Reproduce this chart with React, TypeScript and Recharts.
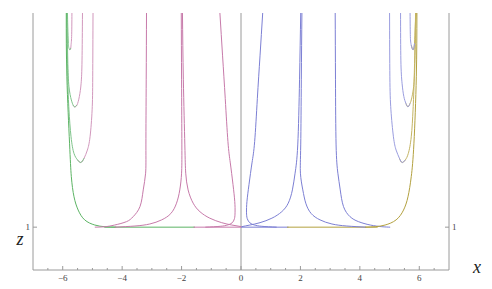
import React from "react";
import { LineChart, Line, XAxis, YAxis, ReferenceLine } from "recharts";

// colours
const GREEN = "#5cb464";
const PINK = "#c77aaa";
const BLUE = "#7c7fd4";
const YELLOW = "#b3a13f";
const GREEN_L = "#7ec48a";
const PINK_L = "#d298bd";
const BLUE_L = "#9a9ddf";
const YELLOW_L = "#c4b462";
const FRAME = "#9a9a9a";
const LABEL = "#444444";
const SERIF = "'Liberation Serif', 'Times New Roman', 'DejaVu Serif', serif";

const xTicks = [-6.5, -6, -5.5, -5, -4.5, -4, -3.5, -3, -2.5, -2, -1.5, -1, -0.5, 0, 0.5, 1, 1.5, 2, 2.5, 3, 3.5, 4, 4.5, 5, 5.5, 6, 6.5];
const xLabels = [-6, -4, -2, 0, 2, 4, 6];
const zTicks = [1];

// curves as [x, z] pairs
const greenMain = [[-5.88, 6], [-5.86, 4.51], [-5.77, 2.96], [-5.71, 2.18], [-5.62, 1.71], [-5.48, 1.4], [-5.26, 1.17], [-4.92, 1.05], [-4.58, 1.01], [-4.2, 1.0]];
const greenFloor = [[-4.6, 1], [-1.55, 1]];
// small loops on the left: green side going down, pink side going up
const loop1Down = [[-5.84, 6], [-5.83, 5.68], [-5.81, 5.29], [-5.79, 5.18], [-5.76, 5.14], [-5.73, 5.18]];
const loop1Up = [[-5.76, 5.14], [-5.73, 5.18], [-5.72, 5.25], [-5.7, 5.45], [-5.69, 6]];
const loop2Down = [[-5.855, 6], [-5.83, 4.9], [-5.79, 4.28], [-5.71, 3.97], [-5.65, 3.85], [-5.6, 3.81], [-5.52, 3.85]];
const loop2Up = [[-5.65, 3.85], [-5.6, 3.81], [-5.52, 3.85], [-5.44, 4.05], [-5.38, 4.36], [-5.35, 4.9], [-5.335, 6]];
const loop3Down = [[-5.865, 6], [-5.83, 4.51], [-5.79, 3.74], [-5.72, 3.11], [-5.62, 2.72], [-5.5, 2.57], [-5.39, 2.51], [-5.28, 2.61]];
const loop3Up = [[-5.5, 2.57], [-5.39, 2.51], [-5.28, 2.61], [-5.17, 2.8], [-5.08, 3.11], [-5.01, 3.74], [-4.99, 4.51], [-4.98, 6]];

const pinkFloor = [[-1.6, 1], [0, 1]];
const pinkWall = [[-3.18, 6], [-3.19, 4.44], [-3.2, 2.92], [-3.21, 2.26], [-3.29, 1.87], [-3.4, 1.48], [-3.63, 1.245], [-3.85, 1.13], [-4.25, 1.05], [-4.58, 1.01], [-4.92, 1.0]];
const pinkPeakL = [[-2.01, 6], [-2.0, 4.44], [-1.99, 2.92], [-2.0, 2.26], [-2.06, 1.87], [-2.17, 1.56], [-2.36, 1.32], [-2.67, 1.17], [-3.07, 1.074], [-3.57, 1.027], [-4.25, 1.0]];
const pinkPeakR = [[-1.97, 6], [-1.94, 4.44], [-1.89, 2.92], [-1.86, 2.26], [-1.78, 1.87], [-1.61, 1.56], [-1.38, 1.36], [-1.05, 1.21], [-0.65, 1.105], [-0.31, 1.05], [0.02, 1.011]];
const pinkHook = [[-0.71, 6], [-0.62, 5], [-0.53, 4], [-0.44, 3], [-0.36, 2.5], [-0.27, 2], [-0.21, 1.6], [-0.2, 1.35], [-0.22, 1.2], [-0.3, 1.1], [-0.45, 1.05], [-0.7, 1.02], [-1.2, 1.0]];

const blueFloor = [[0, 1], [1.6, 1]];
const blueHook = [[0.73, 6], [0.64, 5], [0.55, 4], [0.46, 3], [0.37, 2.5], [0.27, 2], [0.2, 1.6], [0.185, 1.35], [0.21, 1.2], [0.3, 1.1], [0.45, 1.05], [0.7, 1.02], [1.2, 1.0]];
const bluePeakL = [[2.01, 6], [1.97, 4.44], [1.91, 2.92], [1.82, 2.26], [1.73, 1.87], [1.59, 1.56], [1.37, 1.36], [1.04, 1.21], [0.64, 1.105], [0.3, 1.05], [0.02, 1.011]];
const bluePeakR = [[2.05, 6], [2.03, 4.44], [2.01, 2.92], [2.0, 2.26], [2.08, 1.87], [2.18, 1.56], [2.36, 1.32], [2.66, 1.17], [3.06, 1.074], [3.56, 1.027], [4.21, 1.0]];
const blueWall = [[3.17, 6], [3.18, 4.44], [3.2, 2.92], [3.26, 2.26], [3.34, 1.87], [3.45, 1.48], [3.67, 1.245], [3.95, 1.13], [4.35, 1.05], [4.74, 1.011], [5.02, 1.0]];

const yellowMain = [[5.92, 6], [5.9, 4.51], [5.82, 2.96], [5.73, 2.18], [5.62, 1.71], [5.47, 1.4], [5.22, 1.17], [4.85, 1.05], [4.52, 1.011], [4.18, 1.0]];
const yellowFloor = [[1.55, 1], [4.6, 1]];
// small loops on the right: blue side going down, yellow side going up
const loop4Down = [[5.69, 6], [5.7, 5.45], [5.73, 5.25], [5.79, 5.14], [5.84, 5.29]];
const loop4Up = [[5.73, 5.25], [5.79, 5.14], [5.84, 5.29], [5.865, 5.68], [5.89, 6]];
const loop5Down = [[5.37, 6], [5.38, 4.9], [5.42, 4.36], [5.48, 4.05], [5.55, 3.89], [5.62, 3.81], [5.69, 3.89]];
const loop5Up = [[5.55, 3.89], [5.62, 3.81], [5.69, 3.89], [5.73, 3.97], [5.81, 4.28], [5.855, 4.9], [5.89, 6]];
const loop6Down = [[5.0, 6], [5.01, 4.51], [5.045, 3.74], [5.13, 3.11], [5.22, 2.8], [5.33, 2.61], [5.42, 2.51], [5.53, 2.57]];
const loop6Up = [[5.33, 2.61], [5.42, 2.51], [5.53, 2.57], [5.63, 2.72], [5.73, 3.11], [5.79, 3.74], [5.83, 4.51], [5.875, 6]];

const toPts = (arr: number[][]) => arr.map(([x, z]) => ({ x, z }));

const series = [
  { id: "greenFloor", pts: greenFloor, color: GREEN, type: "linear" },
  { id: "pinkFloor", pts: pinkFloor, color: PINK, type: "linear" },
  { id: "blueFloor", pts: blueFloor, color: BLUE, type: "linear" },
  { id: "yellowFloor", pts: yellowFloor, color: YELLOW, type: "linear" },
  { id: "loop1Up", pts: loop1Up, color: PINK_L },
  { id: "loop2Up", pts: loop2Up, color: PINK_L },
  { id: "loop3Up", pts: loop3Up, color: PINK_L },
  { id: "loop1Down", pts: loop1Down, color: GREEN_L },
  { id: "loop2Down", pts: loop2Down, color: GREEN_L },
  { id: "loop3Down", pts: loop3Down, color: GREEN_L },
  { id: "greenMain", pts: greenMain, color: GREEN },
  { id: "pinkWall", pts: pinkWall, color: PINK },
  { id: "pinkPeakL", pts: pinkPeakL, color: PINK },
  { id: "pinkPeakR", pts: pinkPeakR, color: PINK },
  { id: "pinkHook", pts: pinkHook, color: PINK },
  { id: "blueHook", pts: blueHook, color: BLUE },
  { id: "bluePeakL", pts: bluePeakL, color: BLUE },
  { id: "bluePeakR", pts: bluePeakR, color: BLUE },
  { id: "blueWall", pts: blueWall, color: BLUE },
  { id: "loop4Up", pts: loop4Up, color: YELLOW_L },
  { id: "loop5Up", pts: loop5Up, color: YELLOW_L },
  { id: "loop6Up", pts: loop6Up, color: YELLOW_L },
  { id: "loop4Down", pts: loop4Down, color: BLUE_L },
  { id: "loop5Down", pts: loop5Down, color: BLUE_L },
  { id: "loop6Down", pts: loop6Down, color: BLUE_L },
  { id: "yellowMain", pts: yellowMain, color: YELLOW },
];

const fmt = (v: number) => (v < 0 ? `\u2212${-v}` : `${v}`);

function BottomTick({ x, y, payload }: any) {
  const major = xLabels.includes(payload.value);
  return (
    <g>
      <line x1={x} x2={x} y1={y} y2={y - (major ? 4 : 2)} stroke={FRAME} />
      {major && (
        <text x={x} y={y + 11} textAnchor="middle" fontSize={9} fill={LABEL} fontFamily={SERIF}>
          {fmt(payload.value)}
        </text>
      )}
    </g>
  );
}

function TopTick({ x, y, payload }: any) {
  const major = xLabels.includes(payload.value);
  return <line x1={x} x2={x} y1={y} y2={y + (major ? 4 : 2)} stroke={FRAME} />;
}

function LeftTick({ x, y, payload }: any) {
  return (
    <g>
      <line x1={x} x2={x + 4} y1={y} y2={y} stroke={FRAME} />
      <text x={x - 3} y={y + 3} textAnchor="end" fontSize={9} fill={LABEL} fontFamily={SERIF}>
        {payload.value}
      </text>
    </g>
  );
}

function RightTick({ x, y, payload }: any) {
  return (
    <g>
      <line x1={x} x2={x - 4} y1={y} y2={y} stroke={FRAME} />
      <text x={x + 3} y={y + 3} textAnchor="start" fontSize={9} fill={LABEL} fontFamily={SERIF}>
        {payload.value}
      </text>
    </g>
  );
}

export default function App() {
  return (
    <div style={{ position: "absolute", left: 0, top: 0, width: 492, height: 289, background: "#fff" }}>
      <LineChart width={492} height={289} margin={{ top: 13, right: 18, bottom: 0, left: 8 }}>
        <XAxis
          xAxisId="bottom"
          dataKey="x"
          type="number"
          domain={[-7, 7]}
          ticks={xTicks}
          interval={0}
          allowDataOverflow
          height={19}
          tickSize={0}
          tickMargin={0}
          tickLine={false}
          stroke={FRAME}
          tick={<BottomTick />}
        />
        <XAxis
          xAxisId="top"
          orientation="top"
          dataKey="x"
          type="number"
          domain={[-7, 7]}
          ticks={xTicks}
          interval={0}
          allowDataOverflow
          height={0}
          tickSize={0}
          tickMargin={0}
          tickLine={false}
          stroke={FRAME}
          tick={<TopTick />}
        />
        <YAxis
          yAxisId="left"
          type="number"
          domain={[0, 6]}
          ticks={zTicks}
          allowDataOverflow
          width={25}
          tickSize={0}
          tickMargin={0}
          tickLine={false}
          stroke={FRAME}
          tick={<LeftTick />}
        />
        <YAxis
          yAxisId="right"
          orientation="right"
          type="number"
          domain={[0, 6]}
          ticks={zTicks}
          allowDataOverflow
          width={25}
          tickSize={0}
          tickMargin={0}
          tickLine={false}
          stroke={FRAME}
          tick={<RightTick />}
        />
        <ReferenceLine xAxisId="bottom" yAxisId="left" x={0} stroke={FRAME} />
        {series.map((s) => (
          <Line
            key={s.id}
            xAxisId="bottom"
            yAxisId="left"
            data={toPts(s.pts)}
            dataKey="z"
            type={(s.type as any) || "natural"}
            stroke={s.color}
            strokeWidth={1}
            dot={false}
            activeDot={false}
            isAnimationActive={false}
          />
        ))}
      </LineChart>
      <svg width={492} height={289} style={{ position: "absolute", left: 0, top: 0, pointerEvents: "none" }}>
        <text x={20} y={245} textAnchor="middle" fontSize={18} fontStyle="italic" fontFamily={SERIF} fill="#222">
          z
        </text>
        <text x={477} y={273} textAnchor="middle" fontSize={18} fontStyle="italic" fontFamily={SERIF} fill="#222">
          x
        </text>
      </svg>
    </div>
  );
}
